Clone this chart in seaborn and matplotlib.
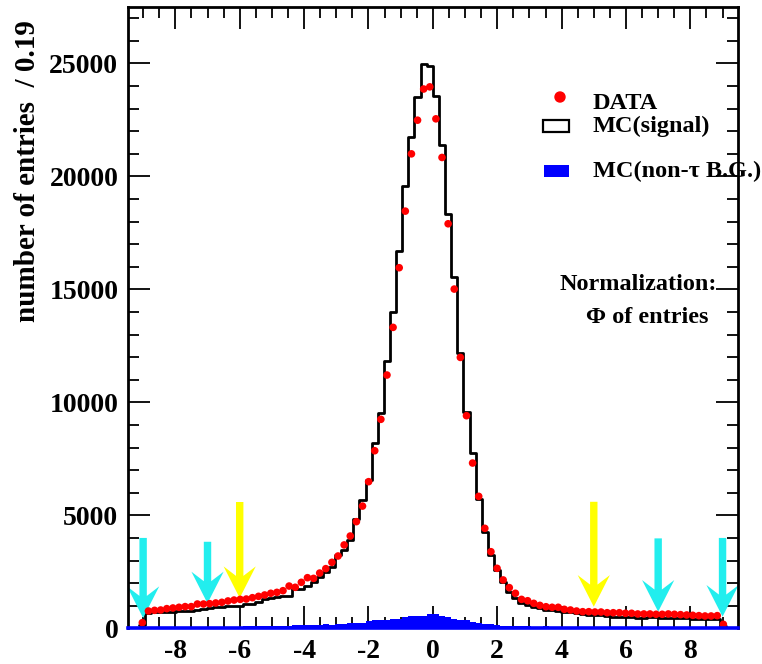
import numpy as np
import pandas as pd
import matplotlib
matplotlib.use("Agg")
import matplotlib.pyplot as plt
import seaborn as sns
from matplotlib.patches import FancyArrow, Rectangle, Ellipse
from matplotlib.ticker import MultipleLocator

# ---------------- data ----------------
data_counts = [
    250, 765, 795, 810, 870, 900, 930, 960, 960, 1075,
    1075, 1090, 1120, 1150, 1210, 1250, 1280, 1295, 1355, 1415,
    1475, 1550, 1590, 1665, 1870, 1815, 2035, 2240, 2210, 2445,
    2640, 2920, 3200, 3690, 4085, 4720, 5410, 6490, 7860, 9250,
    11210, 13320, 15960, 18465, 21000, 22490, 23870, 23965, 22550, 20840,
    17905, 15015, 11990, 9410, 7315, 5840, 4425, 3390, 2655, 2140,
    1800, 1550, 1280, 1220, 1105, 1015, 955, 930, 930, 840,
    810, 765, 735, 735, 720, 720, 690, 690, 690, 665,
    665, 635, 635, 635, 620, 620, 635, 620, 605, 590,
    575, 560, 545, 545, 560, 175,
]
mc_signal = [
    150, 690, 700, 700, 720, 730, 765, 770, 780, 800,
    870, 880, 930, 960, 985, 990, 1000, 1075, 1090, 1180,
    1300, 1350, 1400, 1410, 1420, 1725, 1740, 1870, 2060, 2255,
    2480, 2725, 3250, 3465, 3905, 4820, 5675, 6560, 8185, 9515,
    11830, 14010, 16710, 19585, 21755, 23500, 24970, 24880, 23550, 21370,
    18330, 15545, 12200, 9585, 7760, 5710, 4275, 3250, 2580, 2060,
    1620, 1330, 1105, 1030, 930, 885, 830, 790, 765, 740,
    700, 660, 620, 600, 590, 570, 540, 520, 515, 500,
    480, 470, 470, 480, 480, 470, 470, 460, 450, 440,
    430, 420, 410, 400, 400, 100,
]
mc_background = [
    40, 40, 45, 45, 50, 50, 50, 55, 55, 60,
    60, 60, 65, 65, 70, 70, 75, 80, 85, 90,
    110, 120, 100, 110, 120, 130, 140, 130, 150, 160,
    170, 160, 180, 210, 230, 240, 250, 330, 350, 370,
    380, 390, 400, 480, 540, 560, 560, 650, 640, 560,
    480, 400, 380, 360, 300, 240, 200, 180, 140, 110,
    100, 90, 80, 80, 70, 70, 80, 70, 60, 60,
    60, 55, 55, 60, 55, 50, 50, 55, 50, 50,
    50, 50, 45, 45, 50, 45, 45, 40, 40, 40,
    40, 40, 35, 35, 35, 30,
]
bin_width = 0.19
first_edge = -9.12

# cut arrows
arrow_x = [-9, -7, -6, 5, 7, 9]
arrow_top = [4000, 3830, 5590, 5600, 3980, 4000]
arrow_tip = [455, 1105, 1340, 955, 735, 515]
arrow_colors = ["#22eeee", "#22eeee", "#ffff00", "#ffff00", "#22eeee", "#22eeee"]

legend_labels = ["DATA", "MC(signal)", "MC(non-\u03c4 B.G.)"]
note_lines = ["Normalization:", "\u03a6 of entries"]
y_label = "number of entries  / 0.19"

# ---------------- build ----------------
n = len(data_counts)
edges = [first_edge + bin_width * k for k in range(n + 1)]
centers = [first_edge + bin_width * (k + 0.5) for k in range(n)]
df = pd.DataFrame({"x": centers, "data": data_counts,
                   "sig": mc_signal, "bg": mc_background})

sns.set_theme(style="ticks")
plt.rcParams["font.family"] = ["Liberation Serif", "DejaVu Serif"]
plt.rcParams["font.weight"] = "bold"
plt.rcParams["axes.unicode_minus"] = False
for key in ["text.color", "axes.labelcolor", "xtick.color", "ytick.color",
            "axes.edgecolor"]:
    plt.rcParams[key] = "black"

W, H = 762, 664
fig = plt.figure(figsize=(W / 100, H / 100), dpi=100)
L, R, T, B = 128, 738, 7, 628.3
ax = fig.add_axes([L / W, 1 - B / H, (R - L) / W, (B - T) / H])

sns.histplot(data=df, x="x", weights="bg", bins=edges, element="step",
             fill=True, color="#0000ff", alpha=1, linewidth=0, ax=ax, zorder=2)
sns.histplot(data=df, x="x", weights="sig", bins=edges, element="step",
             fill=False, color="black", linewidth=2.0, ax=ax, zorder=3)

for xa, yt, yp, c in zip(arrow_x, arrow_top, arrow_tip, arrow_colors):
    ar = FancyArrow(xa, yt, 0, yp - yt, width=0.23, head_width=1.0,
                    head_length=1400, length_includes_head=True,
                    overhang=0.3, color=c, linewidth=0, zorder=4)
    ax.add_patch(ar)

sns.scatterplot(data=df, x="x", y="data", color="#ff0000", s=30,
                edgecolor="none", ax=ax, zorder=5)

ax.set_xlim(-9.47, 9.48)
ax.set_ylim(0, 27500)
ax.set_xlabel("")
ax.set_ylabel("")
ax.xaxis.set_major_locator(MultipleLocator(2))
ax.xaxis.set_minor_locator(MultipleLocator(0.5))
ax.yaxis.set_major_locator(MultipleLocator(5000))
ax.yaxis.set_minor_locator(MultipleLocator(1000))
ax.tick_params(which="both", direction="in", top=True, right=True,
               width=1.3, color="black", labelsize=20, labelcolor="black")
ax.tick_params(which="major", length=16)
ax.tick_params(which="minor", length=8)
ax.tick_params(axis="x", pad=8)
ax.tick_params(axis="y", pad=7)
for sp in ax.spines.values():
    sp.set_linewidth(2.0)
    sp.set_color("black")
    sp.set_zorder(6)
ax.spines["bottom"].set_color("#0000ff")
ax.spines["bottom"].set_linewidth(2.6)

def fx(px):
    return px / W

def fy(py):
    return 1 - py / H

fig.text(fx(28), fy(171), y_label, rotation=90, ha="center", va="center",
         fontsize=21, fontweight="bold")

# legend (manual)
fig.add_artist(Ellipse((fx(560), fy(97)), 10 / W, 10 / H, color="#ff0000"))
fig.add_artist(Rectangle((fx(543), fy(132)), 26 / W, 12 / H, facecolor="white",
                         edgecolor="black", linewidth=1.6))
fig.add_artist(Rectangle((fx(544), fy(177)), 25 / W, 12 / H, facecolor="#0000ff",
                         edgecolor="none"))
fig.text(fx(593), fy(109), legend_labels[0], fontsize=17.5, fontweight="bold")
fig.text(fx(593), fy(132), legend_labels[1], fontsize=17.5, fontweight="bold")
fig.text(fx(593), fy(177), legend_labels[2], fontsize=17.5, fontweight="bold")
fig.text(fx(560), fy(290), note_lines[0], fontsize=17.5, fontweight="bold")
fig.text(fx(586), fy(323), note_lines[1], fontsize=17.5, fontweight="bold")

fig.savefig("out.png", dpi=100)
